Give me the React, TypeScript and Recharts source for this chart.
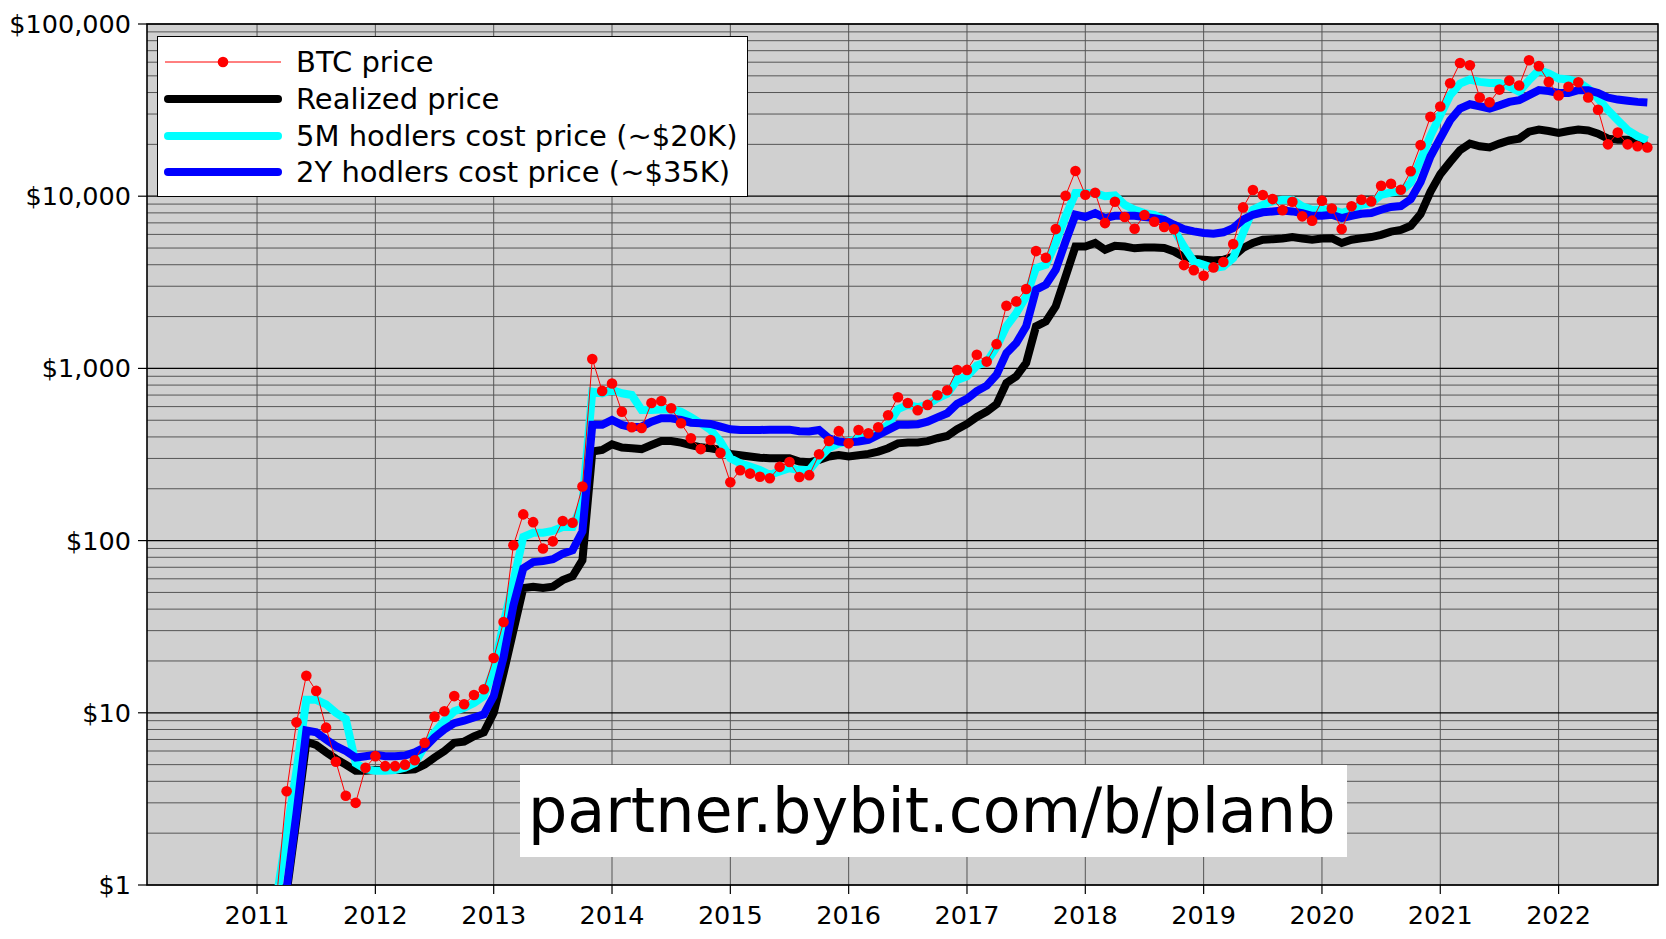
import React from 'react';
import {
  LineChart,
  Line,
  XAxis,
  YAxis,
  CartesianGrid,
  Legend,
  ReferenceArea,
} from 'recharts';

// monthly points, first one is March 2011, last one October 2022
const START_YEAR = 2011;
const START_MONTH = 2;

const btcPrice = [
  0.86, 3.5, 8.8, 16.4, 13.4, 8.2, 5.2, 3.3, 3.0, 4.8,
  5.6, 4.9, 4.9, 5.0, 5.3, 6.7, 9.5, 10.2, 12.5, 11.2, 12.7, 13.7,
  20.8, 33.7, 94, 142, 128, 90, 99, 130, 127, 206, 1135, 740,
  817, 561, 455, 451, 630, 647, 587, 480, 393, 340, 384, 323,
  218, 256, 245, 235, 230, 268, 286, 234, 240, 317, 379, 432,
  367, 439, 420, 455, 534, 680, 630, 571, 614, 698, 747, 979,
  980, 1200, 1095, 1383, 2311, 2449, 2890, 4800, 4391, 6442, 10070, 13996,
  10200, 10480, 6980, 9290, 7570, 6475, 7770, 7110, 6620, 6420, 3980, 3720,
  3450, 3860, 4145, 5270, 8610, 10860, 10160, 9620, 8300, 9290, 7640, 7210,
  9420, 8490, 6440, 8730, 9530, 9330, 11510, 11800, 10900, 13950, 19800, 28900,
  33200, 45300, 59400, 57600, 37400, 35100, 41600, 46900, 43900, 61600, 56900, 46100,
  38500, 43200, 45900, 37400, 31800, 20000, 23400, 20000, 19500, 19200,
];

const realizedPrice = [
  null, 0.9, 2.4, 6.8, 6.5, 5.9, 5.4, 5.0, 4.6, 4.6,
  4.65, 4.65, 4.65, 4.65, 4.7, 5.0, 5.5, 6.0, 6.7, 6.8, 7.3, 7.7,
  10, 17, 30, 53, 54, 53, 54, 59, 62, 77, 329, 336,
  362, 347, 344, 340, 359, 379, 379, 371, 359, 348, 344, 336,
  319, 313, 308, 303, 301, 301, 301, 288, 285, 294, 308, 314,
  308, 313, 319, 329, 344, 367, 371, 371, 378, 393, 405, 443,
  476, 523, 561, 620, 822, 899, 1075, 1754, 1875, 2292, 3422, 5106,
  5106, 5345, 4887, 5155, 5106, 4980, 5030, 5030, 5000, 4775, 4433, 4316,
  4276, 4236, 4276, 4467, 5000, 5345, 5585, 5630, 5680, 5790, 5680, 5585,
  5680, 5700, 5345, 5585, 5700, 5790, 5970, 6230, 6370, 6730, 7870, 10600,
  13400, 15820, 18500, 20200, 19500, 19180, 20200, 21100, 21600, 23700, 24400, 23900,
  23300, 23900, 24400, 24100, 23100, 21600, 21300, 21300, 20400, 20800,
];

const hodlers5M = [
  0.85, 2.0, 4.6, 11.9, 11.9, 11.2, 10, 9.2, 5.1, 4.7,
  4.6, 4.6, 4.65, 4.8, 5.1, 6.4, 7.7, 9.0, 10.2, 10.7, 11.4, 12.5,
  17.9, 33, 58, 105, 111, 111, 114, 120, 120, 165, 733, 717,
  750, 717, 701, 574, 574, 578, 580, 561, 520, 480, 439, 376,
  301, 281, 269, 257, 241, 252, 263, 257, 257, 301, 344, 367,
  376, 393, 402, 430, 470, 580, 614, 595, 614, 671, 711, 857,
  900, 1040, 1090, 1330, 1754, 2096, 2617, 3826, 4000, 5350, 7640, 10420,
  10420, 10420, 10000, 10100, 8910, 8340, 7980, 7800, 7300, 6380, 5100, 4180,
  4000, 3826, 3910, 4373, 6110, 8340, 8910, 9330, 9530, 9530, 8730, 8340,
  8340, 8400, 7980, 8340, 8910, 9120, 10200, 10500, 10700, 12000, 16200, 22400,
  29500, 38600, 45100, 47600, 46100, 45500, 45500, 43200, 40400, 47200, 54000, 51600,
  48200, 47600, 46100, 42200, 36900, 31600, 27600, 24200, 22300, 21100,
];

const hodlers2Y = [
  null, 0.95, 2.6, 7.9, 7.7, 7.0, 6.4, 6.0, 5.5, 5.6,
  5.7, 5.6, 5.6, 5.65, 5.9, 6.3, 7.2, 8.0, 8.7, 9.0, 9.4, 9.8,
  12.5, 21, 42, 69, 75, 76, 78, 84, 88, 113, 470, 470,
  502, 470, 455, 459, 491, 513, 513, 502, 484, 480, 476, 459,
  443, 439, 439, 439, 441, 441, 441, 432, 430, 439, 393, 376,
  371, 376, 384, 411, 439, 470, 470, 474, 491, 520, 549, 622,
  665, 738, 794, 918, 1227, 1403, 1754, 2863, 3062, 3740, 5470, 7800,
  7570, 7980, 7460, 7700, 7700, 7700, 7570, 7460, 7300, 6830, 6440, 6250,
  6110, 6060, 6170, 6530, 7300, 7800, 8060, 8160, 8270, 8160, 7980, 7700,
  7700, 7800, 7460, 7700, 7900, 7980, 8340, 8660, 8770, 9600, 12100, 17000,
  21700, 27600, 32300, 34200, 33300, 32300, 33700, 35300, 36100, 38600, 41300, 40800,
  39800, 39800, 41300, 41300, 39800, 37400, 36400, 35800, 35300, 35000,
];

const yearTicks = [2011, 2012, 2013, 2014, 2015, 2016, 2017, 2018, 2019, 2020, 2021, 2022];
const priceTicks = [1, 10, 100, 1000, 10000, 100000];

const seriesNames = [
  'BTC price',
  'Realized price',
  '5M hodlers cost price (~$20K)',
  '2Y hodlers cost price (~$35K)',
];

const X_MIN = 2010.07;
const X_MAX = 2022.84;
const FONT = '"DejaVu Sans", Verdana, sans-serif';

const data = btcPrice.map((price, i) => ({
  t: START_YEAR + (START_MONTH + i) / 12,
  btc: price,
  realized: realizedPrice[i],
  m5: hodlers5M[i],
  y2: hodlers2Y[i],
}));

// grey minor lines at 2..9 of every decade
const minorLines: number[] = [];
priceTicks.slice(0, -1).forEach((d) => {
  for (let k = 2; k <= 9; k++) minorLines.push(d * k);
});

const formatPrice = (v: number) => '$' + v.toLocaleString('en-US');

const RedDot = (props: any) => {
  const { cx, cy, value, index } = props;
  if (value == null || value < 1 || cx == null || cy == null) return <g key={`dot-${index}`} />;
  return <circle key={`dot-${index}`} cx={cx} cy={cy} r={5.3} fill="#ff0000" stroke="none" />;
};

const LegendBox = () => {
  const rowStyle: React.CSSProperties = {
    display: 'flex',
    alignItems: 'center',
    height: 36.7,
  };
  const swatch = (i: number) => {
    if (i === 0) {
      return (
        <svg width={118} height={20}>
          <line x1={1} y1={10} x2={117} y2={10} stroke="#ff0000" strokeWidth={1} />
          <circle cx={59} cy={10} r={5.3} fill="#ff0000" />
        </svg>
      );
    }
    const color = ['', '#000000', '#00ffff', '#0000ff'][i];
    return (
      <svg width={118} height={20}>
        <line x1={4} y1={10} x2={114} y2={10} stroke={color} strokeWidth={8} strokeLinecap="round" />
      </svg>
    );
  };
  return (
    <div
      style={{
        width: 591,
        height: 161,
        background: '#ffffff',
        border: '1px solid #000',
        boxSizing: 'border-box',
        padding: '7px 0 0 6px',
        fontFamily: FONT,
        fontSize: 29,
        color: '#000',
      }}
    >
      {seriesNames.map((name, i) => (
        <div key={name} style={rowStyle}>
          {swatch(i)}
          <span style={{ marginLeft: 14, whiteSpace: 'nowrap' }}>{name}</span>
        </div>
      ))}
    </div>
  );
};

export default function App() {
  return (
    <div style={{ position: 'absolute', left: 0, top: 0, width: 1666, height: 939, background: '#fff' }}>
      <LineChart
        width={1666}
        height={939}
        data={data}
        margin={{ top: 24, right: 8, bottom: 0, left: 0 }}
        style={{ fontFamily: FONT }}
      >
        <CartesianGrid
          fill="#d0d0d0"
          stroke="#555555"
          strokeWidth={1}
          horizontalValues={minorLines}
          verticalValues={yearTicks}
        />
        <CartesianGrid
          stroke="#000000"
          strokeWidth={1.2}
          vertical={false}
          horizontalValues={priceTicks}
        />
        <XAxis
          dataKey="t"
          type="number"
          domain={[X_MIN, X_MAX]}
          allowDataOverflow
          ticks={yearTicks}
          interval={0}
          height={54}
          tickSize={9}
          tickMargin={12}
          axisLine={false}
          tickLine={{ stroke: '#000', strokeWidth: 1.2 }}
          tick={{ fill: '#000', fontSize: 25.5, fontFamily: FONT }}
        />
        <YAxis
          type="number"
          scale="log"
          domain={[1, 100000]}
          allowDataOverflow
          ticks={priceTicks}
          interval={0}
          width={147}
          tickSize={9}
          tickMargin={7}
          axisLine={false}
          tickLine={{ stroke: '#000', strokeWidth: 1.2 }}
          tick={{ fill: '#000', fontSize: 25.5, fontFamily: FONT }}
          tickFormatter={formatPrice}
        />
        <Line
          dataKey="realized"
          name={seriesNames[1]}
          stroke="#000000"
          strokeWidth={8}
          dot={false}
          activeDot={false}
          isAnimationActive={false}
        />
        <Line
          dataKey="m5"
          name={seriesNames[2]}
          stroke="#00ffff"
          strokeWidth={8}
          dot={false}
          activeDot={false}
          isAnimationActive={false}
        />
        <Line
          dataKey="y2"
          name={seriesNames[3]}
          stroke="#0000ff"
          strokeWidth={8}
          dot={false}
          activeDot={false}
          isAnimationActive={false}
        />
        <Line
          dataKey="btc"
          name={seriesNames[0]}
          stroke="#ff0000"
          strokeWidth={1}
          dot={RedDot}
          activeDot={false}
          isAnimationActive={false}
        />
        <ReferenceArea
          x1={X_MIN}
          x2={X_MAX}
          y1={1}
          y2={100000}
          fill="none"
          fillOpacity={0}
          stroke="#000"
          strokeWidth={1.6}
          ifOverflow="visible"
        />
        <Legend
          layout="horizontal"
          verticalAlign="middle"
          align="center"
          content={() => <LegendBox />}
          wrapperStyle={{ position: 'absolute', left: 157, top: 36, width: 591, height: 161 }}
        />
      </LineChart>
      <div
        style={{
          position: 'absolute',
          left: 520,
          top: 765,
          width: 827,
          height: 92,
          background: '#ffffff',
          fontFamily: FONT,
          fontSize: 62,
          lineHeight: '92px',
          paddingLeft: 8,
          boxSizing: 'border-box',
          color: '#000',
          whiteSpace: 'nowrap',
        }}
      >
        partner.bybit.com/b/planb
      </div>
    </div>
  );
}
